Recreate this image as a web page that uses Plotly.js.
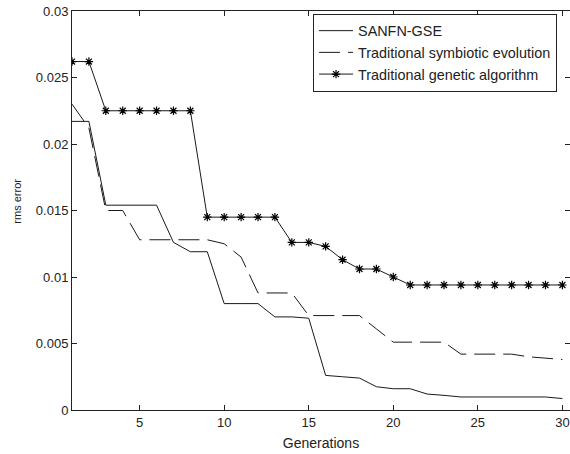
<!DOCTYPE html>
<html>
<head>
<meta charset="utf-8">
<script src="https://cdn.plot.ly/plotly-3.0.1.min.js"></script>
<style>html,body{margin:0;padding:0;background:#fff;}#chart{width:570px;height:454px;}</style>
</head>
<body>
<div id="chart"></div>
<script>
var generations = [1,2,3,4,5,6,7,8,9,10,11,12,13,14,15,16,17,18,19,20,21,22,23,24,25,26,27,28,29,30];
var sanfnGse = [0.0217,0.0217,0.0154,0.0154,0.0154,0.0154,0.0126,0.0119,0.0119,0.0080,0.0080,0.0080,0.0070,0.0070,0.0069,0.0026,0.0025,0.0024,0.00175,0.0016,0.0016,0.0012,0.0011,0.00098,0.00098,0.00098,0.00098,0.00098,0.00098,0.00086];
var tradSymbiotic = [0.0230,0.0212,0.0150,0.0150,0.0128,0.0128,0.0128,0.0128,0.0128,0.0125,0.0115,0.0088,0.0088,0.0088,0.0071,0.0071,0.0071,0.0071,0.0061,0.0051,0.0051,0.0051,0.0051,0.0042,0.0042,0.0042,0.0042,0.0040,0.0039,0.0038];
var tradGenetic = [0.0262,0.0262,0.0225,0.0225,0.0225,0.0225,0.0225,0.0225,0.0145,0.0145,0.0145,0.0145,0.0145,0.0126,0.0126,0.0123,0.0113,0.0106,0.0106,0.0100,0.0094,0.0094,0.0094,0.0094,0.0094,0.0094,0.0094,0.0094,0.0094,0.0094];
var seriesNames = ['SANFN-GSE','Traditional symbiotic evolution','Traditional genetic algorithm'];
var xTicks = [5,10,15,20,25,30];
var yTicks = [0,0.005,0.01,0.015,0.02,0.025,0.03];
var yTickText = ['0','0.005','0.01','0.015','0.02','0.025','0.03'];

var traces = [
  {x: generations, y: sanfnGse, name: seriesNames[0], mode: 'lines', line: {color: '#1a1a1a', width: 1}},
  {x: generations, y: tradSymbiotic, name: seriesNames[1], mode: 'lines', line: {color: '#1a1a1a', width: 1, dash: '21px,8px'}},
  {x: generations, y: tradGenetic, name: seriesNames[2], mode: 'lines+markers', line: {color: '#1a1a1a', width: 1},
   marker: {symbol: 'asterisk-open', size: 7, color: '#000', line: {color: '#000', width: 1.2}}}
];

var layout = {
  width: 570, height: 454,
  margin: {l: 72, r: 0, t: 11, b: 44},
  paper_bgcolor: '#fff', plot_bgcolor: '#fff',
  font: {family: 'Liberation Sans, Arial, sans-serif', size: 13, color: '#222'},
  showlegend: true,
  legend: {x: 0.484, y: 0.993, xanchor: 'left', yanchor: 'top', bgcolor: '#fff', bordercolor: '#222', borderwidth: 1,
           font: {size: 14.4, color: '#222'}, tracegroupgap: 0, itemwidth: 34},
  xaxis: {range: [1, 30.45], tickvals: xTicks, ticks: 'inside', ticklen: 5, tickcolor: '#222',
          showline: true, linecolor: '#222', linewidth: 1, mirror: 'ticks', showgrid: false, zeroline: false,
          title: {text: 'Generations', font: {size: 14}, standoff: 9}},
  yaxis: {range: [0, 0.03], tickvals: yTicks, ticktext: yTickText, ticks: 'inside', ticklen: 5, tickcolor: '#222',
          showline: true, linecolor: '#222', linewidth: 1, mirror: 'ticks', showgrid: false, zeroline: false},
  annotations: [{text: 'rms error', xref: 'paper', yref: 'paper', x: -0.111, y: 0.524, xanchor: 'center', yanchor: 'middle',
                 textangle: -90, showarrow: false, font: {size: 11, color: '#222'}}]
};

Plotly.newPlot('chart', traces, layout, {displayModeBar: false, staticPlot: true});
</script>
</body>
</html>
